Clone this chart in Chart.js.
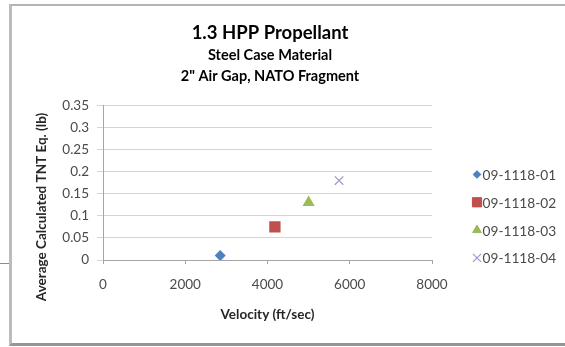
<!DOCTYPE html>
<html>
<head>
<meta charset="utf-8">
<script src="https://cdn.jsdelivr.net/npm/chart.js@4.4.1/dist/chart.umd.min.js"></script>
<style>
  html, body { margin: 0; padding: 0; background: #fff; }
  #wrap { position: relative; width: 565px; height: 347px; overflow: hidden; }
  .frame {
    position: absolute; left: 9px; top: 4px; width: 600px; height: 337px;
    border-top: 2px solid #b4b4b4; border-left: 3px solid #bcbcbc; border-bottom: 3px solid #959595;
  }
  .stub { position: absolute; left: 0; top: 263px; width: 9px; height: 1px; background: #8c8c8c; }
  #tntChart { position: absolute; left: 0; top: 0; z-index: 2; }
</style>
</head>
<body>
<div id="wrap">
  <div class="frame"></div>
  <div class="stub"></div>
  <canvas id="tntChart" width="565" height="347"></canvas>
</div>
<script>
// data
const seriesNames = ['09-1118-01', '09-1118-02', '09-1118-03', '09-1118-04']
const velocities = [2850, 4180, 5000, 5740]
const tntEq = [0.01, 0.075, 0.13, 0.18]
const xTickLabels = ['0', '2000', '4000', '6000', '8000']
const yTickLabels = ['0', '0.05', '0.1', '0.15', '0.2', '0.25', '0.3', '0.35']

const colors = ['#4F81BD', '#C0504D', '#9BBB59', '#A693C9']
const styles = ['rectRot', 'rect', 'triangle', 'crossRot']
const radii = [5.5, 8, 7, 6]
const legendRadii = [3.8, 6.5, 5, 5.7]

const FONT = 'Lato, "Open Sans", sans-serif'

const initChart = () => {
  if (typeof Chart === 'undefined') {
    console.error('Chart.js not loaded')
    return
  }
  const ctx = document.getElementById('tntChart')

  const datasets = seriesNames.map((name, i) => ({
    label: name,
    data: [{ x: velocities[i], y: tntEq[i] }],
    pointStyle: styles[i],
    pointRadius: radii[i],
    pointHoverRadius: radii[i],
    backgroundColor: colors[i],
    borderColor: colors[i],
    pointBorderWidth: styles[i] === 'crossRot' ? 1.2 : 0,
    showLine: false
  }))

  // y axis title, drawn lower than chart.js would centre it
  const yTitle = {
    id: 'yTitle',
    afterDraw(chart) {
      const c = chart.ctx
      c.save()
      c.translate(42, 207)
      c.rotate(-Math.PI / 2)
      c.font = 'bold 13.5px ' + FONT
      c.fillStyle = '#262626'
      c.textAlign = 'center'
      c.textBaseline = 'middle'
      c.fillText('Average Calculated TNT Eq. (lb)', 0, 0)
      c.restore()
    }
  }

  // legend on the right, Excel style
  const sideLegend = {
    id: 'sideLegend',
    afterDraw(chart) {
      const c = chart.ctx
      const x = chart.chartArea.right + 45
      c.save()
      chart.data.datasets.forEach((ds, i) => {
        const y = 174.5 + i * 27.8
        c.fillStyle = ds.backgroundColor
        c.strokeStyle = ds.borderColor
        c.lineWidth = ds.pointBorderWidth || 0
        Chart.helpers.drawPoint(c, { pointStyle: ds.pointStyle, radius: legendRadii[i], rotation: 0, borderWidth: c.lineWidth }, x, y)
        c.fill()
        c.font = '13.7px ' + FONT
        c.fillStyle = '#4a4a4a'
        c.textAlign = 'left'
        c.textBaseline = 'middle'
        c.fillText(ds.label, x + 5.5, y + 1)
      })
      c.restore()
    }
  }

  new Chart(ctx, {
    type: 'scatter',
    data: { datasets },
    plugins: [yTitle, sideLegend],
    options: {
      responsive: false,
      animation: false,
      layout: { padding: { left: 0, right: 25, top: 0, bottom: 0 } },
      plugins: {
        legend: { display: false },
        tooltip: { enabled: false },
        title: {
          display: true,
          text: '1.3 HPP Propellant',
          color: '#000',
          font: { family: FONT, size: 18.5, weight: 'bold', lineHeight: 1.2 },
          padding: { top: 22.4, bottom: 0 }
        },
        subtitle: {
          display: true,
          text: ['Steel Case Material', '2" Air Gap, NATO Fragment'],
          color: '#000',
          font: { family: FONT, size: 14.5, weight: 'bold', lineHeight: 21 / 14.5 },
          padding: { top: 0.5, bottom: 18.4 }
        }
      },
      scales: {
        x: {
          type: 'linear',
          min: 0,
          max: 8000,
          afterFit: s => { s.height = 87 },
          afterBuildTicks: s => { s.ticks = xTickLabels.map(v => ({ value: Number(v) })) },
          ticks: {
            callback: (v, i) => xTickLabels[i],
            color: '#4a4a4a',
            font: { family: FONT, size: 13.5 },
            padding: 13,
            maxRotation: 0
          },
          grid: { drawOnChartArea: false, tickLength: 4, color: '#a6a6a6' },
          border: { color: '#a6a6a6' },
          title: {
            display: true,
            text: 'Velocity (ft/sec)',
            color: '#262626',
            font: { family: FONT, size: 13.5, weight: 'bold', lineHeight: 1.2 },
            padding: { top: 0, bottom: 24 }
          }
        },
        y: {
          type: 'linear',
          min: 0,
          max: 0.35,
          afterFit: s => { s.width = 103 },
          afterBuildTicks: s => { s.ticks = yTickLabels.map(v => ({ value: Number(v) })) },
          ticks: {
            callback: (v, i) => yTickLabels[i],
            color: '#4a4a4a',
            font: { family: FONT, size: 13.5 },
            padding: 8
          },
          grid: { tickLength: 6, color: '#d4d4d4' },
          border: { color: '#a6a6a6' }
        },
        pad: {
          type: 'linear',
          position: 'right',
          afterFit: s => { s.width = 108 },
          ticks: { display: false },
          grid: { display: false },
          border: { display: false }
        }
      }
    }
  })
}

initChart()
</script>
</body>
</html>
